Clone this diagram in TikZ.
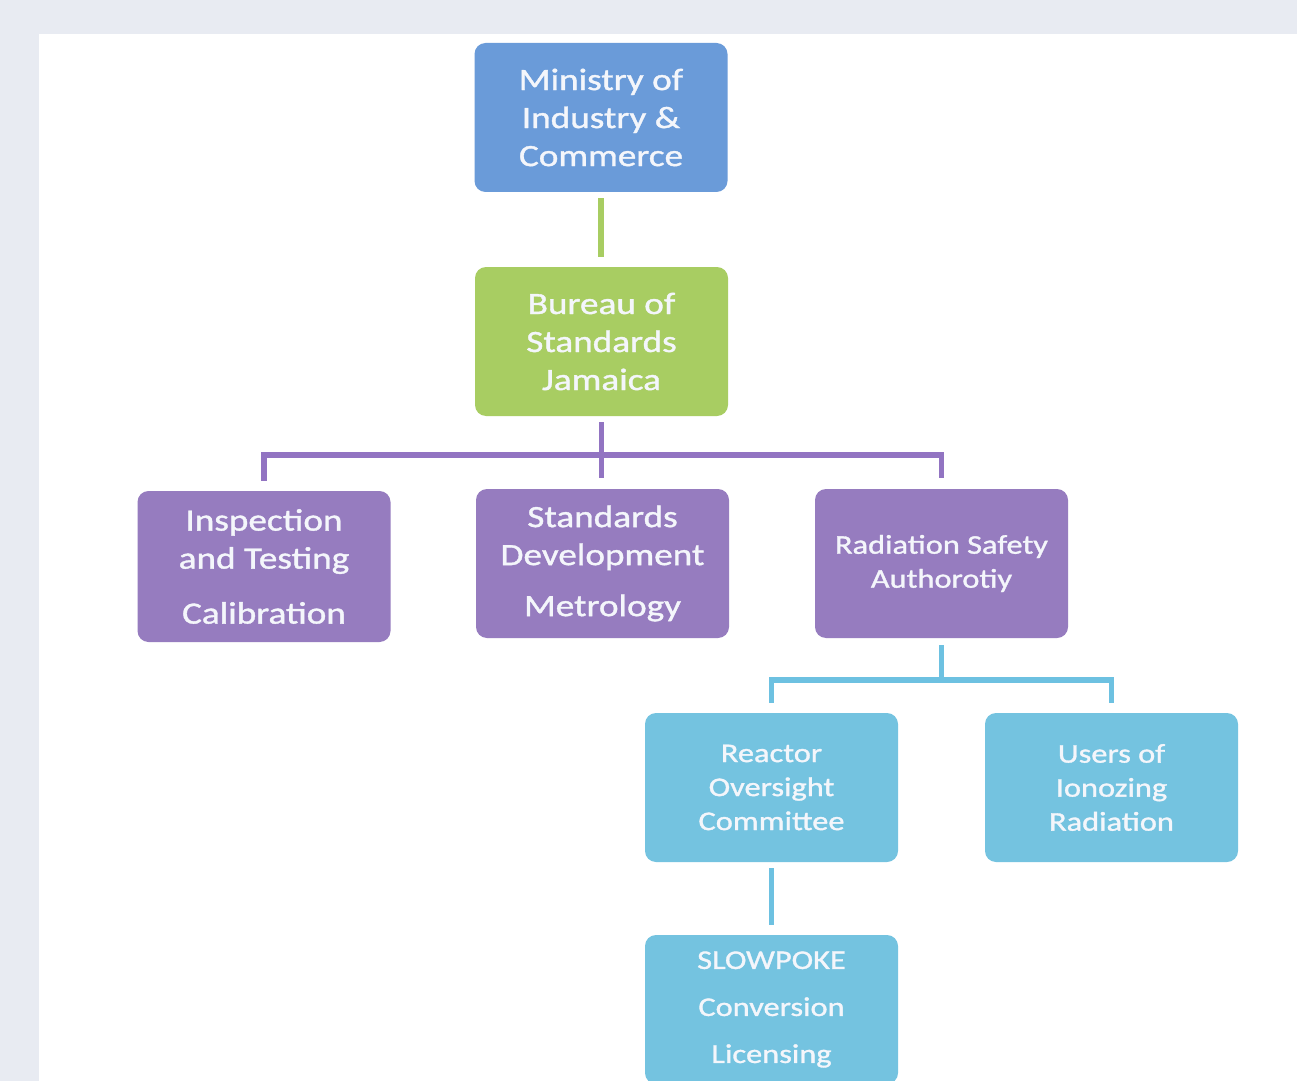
\documentclass[tikz,border=0pt]{standalone}
\usepackage{fontspec}
\setmainfont{Carlito}[FakeStretch=1.2, FakeBold=1.2]
\definecolor{bgc}{HTML}{E8EBF2}
\definecolor{cBlue}{HTML}{6A9BD9}
\definecolor{cGreen}{HTML}{A8CD62}
\definecolor{cPurple}{HTML}{967CBF}
\definecolor{cCyan}{HTML}{74C3E0}
\definecolor{lPurple}{HTML}{9274C2}
\definecolor{lCyan}{HTML}{6DC1E1}
\definecolor{txt}{HTML}{F4F6FB}
\begin{document}
\begin{tikzpicture}[x=0.5pt,y=-0.5pt,
  orgbox/.style={rounded corners=5.5pt, minimum width=126.5pt, minimum height=74.5pt,
    inner sep=0pt, align=center, text=txt},
  bigtxt/.style={font=\fontsize{15.5}{19}\selectfont},
  smalltxt/.style={font=\fontsize{13.5}{17}\selectfont},
  conn/.style={line width=2.8pt, line join=miter, line cap=butt},
  gline/.style={conn, draw=cGreen},
  pline/.style={conn, draw=lPurple},
  cline/.style={conn, draw=lCyan}]
\useasboundingbox (0,0) rectangle (1297,1081);
\fill[bgc] (0,0) rectangle (1297,1081);
\fill[white] (39,34) rectangle (1297,1081);
\begin{scope}
\clip (0,0) rectangle (1297,1081);
\node[orgbox, bigtxt, fill=cBlue] (mi) at (601,117.5) {Ministry of\\Industry \&\\Commerce};
\node[orgbox, bigtxt, fill=cGreen] (bu) at (601.5,341.5) {Bureau of\\Standards\\Jamaica};
\node[orgbox, bigtxt, fill=cPurple, minimum height=75.5pt] (in) at (264,566.5) {Inspection\\and Testing\\[8.5pt]Calibration};
\node[orgbox, bigtxt, fill=cPurple] (st) at (602.5,563.5) {Standards\\Development\\[6.5pt]Metrology};
\node[orgbox, smalltxt, fill=cPurple] (ra) at (941.5,563.5) {Radiation Safety\\Authorotiy};
\node[orgbox, smalltxt, fill=cCyan] (rc) at (771.5,787.5) {Reactor\\Oversight\\Committee};
\node[orgbox, smalltxt, fill=cCyan] (us) at (1111.5,787.5) {Users of\\Ionozing\\Radiation};
\node[orgbox, font=\fontsize{13.5}{23.5}\selectfont, fill=cCyan] (sl) at (771.5,1009.5) {SLOWPOKE\\Conversion\\Licensing};
\end{scope}
\coordinate (pj) at (601,455);
\coordinate (cj) at (941.5,680);
\draw[gline, shorten <=3pt, shorten >=5pt] (mi.south) -- (mi.south |- bu.north);
\draw[pline, shorten <=3pt, shorten >=5.5pt] (bu.south) -- (bu.south |- st.north);
\draw[pline, shorten <=5pt, shorten >=5.5pt] (in.north) |- (pj) -| (ra.north);
\draw[cline, shorten <=3.5pt, shorten >=-1.5pt] (ra.south) -- (cj);
\draw[cline, shorten <=5pt, shorten >=5pt] (rc.north) |- (cj) -| (us.north);
\draw[cline, shorten <=3pt, shorten >=5pt] (rc.south) -- (rc.south |- sl.north);
\end{tikzpicture}
\end{document}
